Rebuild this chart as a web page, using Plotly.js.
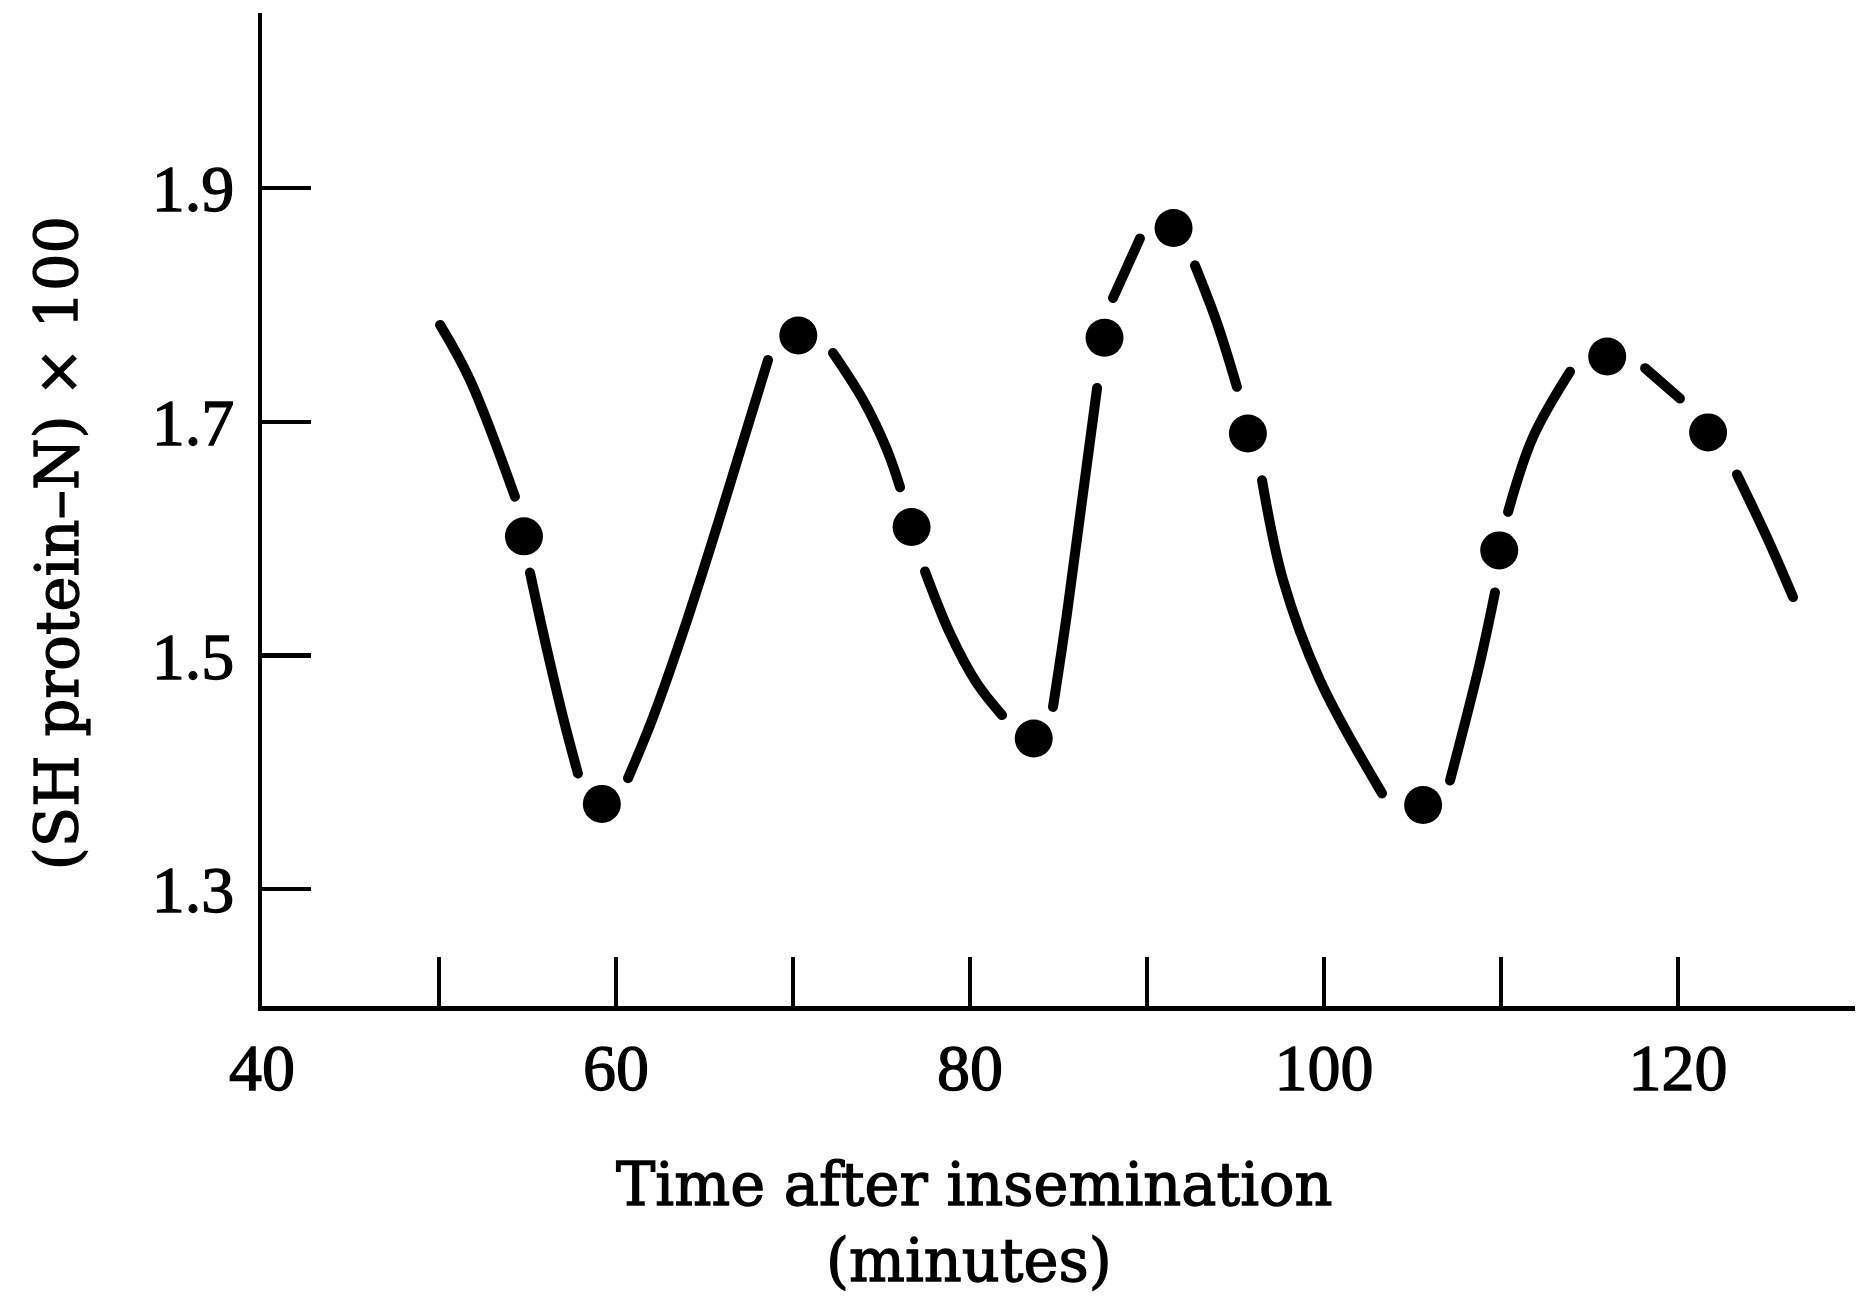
<!DOCTYPE html>
<html>
<head>
<meta charset="utf-8">
<script src="https://cdn.plot.ly/plotly-3.0.1.min.js"></script>
<style>
  html, body { margin: 0; padding: 0; background: #ffffff; }
  #chart { width: 1859px; height: 1297px; }
  /* heavier print look of the original typesetting */
  #chart svg text { stroke: #000000; stroke-width: 1.3px; }
  /* pen-drawn strokes have rounded ends */
  #chart .scatterlayer path.js-line { stroke-linecap: round; stroke-linejoin: round; }
</style>
</head>
<body>
<div id="chart"></div>
<script>
// Measured points (time after insemination, minutes)
const dotTime  = [54.8, 59.2, 70.3, 76.7, 83.6, 87.6, 91.5, 95.7, 105.6, 109.9, 116.0, 121.7];
const dotValue = [1.602, 1.373, 1.774, 1.610, 1.429, 1.772, 1.866, 1.690, 1.372, 1.590, 1.756, 1.691];

// Hand-drawn fitted curve: points read along its visible strokes.
// The drawn curve is interrupted around every data point; null marks each break.
const curveTime  = [50.06, 51.75, 54.29, null,
                    55.14, 56.10, 57.01, 57.85, null,
                    60.68, 62.09, 64.01, 65.88, 68.59, null,
                    72.26, 73.95, 75.31, 76.05, null,
                    77.46, 78.87, 80.40, 81.81, null,
                    84.69, 85.48, 87.18, null,
                    88.08, 89.60, null,
                    92.71, 93.95, 95.08, null,
                    96.50, 97.68, 99.77, 103.28, null,
                    107.12, 108.81, 109.66, null,
                    110.40, 111.81, 113.90, null,
                    118.14, 120.11, null,
                    123.33, 125.03, 126.50];
const curveValue = [1.783, 1.736, 1.636, null,
                    1.571, 1.505, 1.447, 1.399, null,
                    1.395, 1.447, 1.530, 1.619, 1.753, null,
                    1.759, 1.719, 1.676, 1.644, null,
                    1.572, 1.519, 1.476, 1.449, null,
                    1.456, 1.536, 1.729, null,
                    1.806, 1.857, null,
                    1.834, 1.785, 1.730, null,
                    1.650, 1.565, 1.479, 1.382, null,
                    1.393, 1.494, 1.554, null,
                    1.623, 1.687, 1.743, null,
                    1.746, 1.720, null,
                    1.655, 1.601, 1.550];

const xTickValues = [40, 50, 60, 70, 80, 90, 100, 110, 120, 130];
const xTickLabels = ['40', '', '60', '', '80', '', '100', '', '120', ''];
const yTickValues = [1.3, 1.5, 1.7, 1.9];
const yTickLabels = ['1.3', '1.5', '1.7', '1.9'];

const yTitle = '(SH protein\u2013N) \u00d7 100';
const xTitleLine1 = 'Time after insemination';
const xTitleLine2 = '(minutes)';

const tickFont = { family: '"Liberation Serif", "Times New Roman", serif', size: 66, color: '#000000' };
const titleFont = { family: '"DejaVu Serif", "Liberation Serif", serif', size: 59, color: '#000000' };

const traces = [
  {
    type: 'scatter', mode: 'lines', x: curveTime, y: curveValue,
    connectgaps: false,
    line: { color: '#000000', width: 10, shape: 'spline', smoothing: 1.0 },
    hoverinfo: 'skip', showlegend: false
  },
  {
    type: 'scatter', mode: 'markers', x: dotTime, y: dotValue,
    marker: { size: 38, color: '#000000', line: { width: 0 } },
    showlegend: false
  }
];

const axisCommon = {
  showgrid: false, zeroline: false,
  showline: true, linecolor: '#000000', linewidth: 4.5,
  ticks: 'inside', ticklen: 49, tickwidth: 4.5, tickcolor: '#000000',
  tickfont: tickFont, tickmode: 'array', fixedrange: true
};

const layout = {
  width: 1859, height: 1297,
  margin: { l: 262, r: 4, t: 13, b: 291, pad: 0 },
  paper_bgcolor: '#ffffff', plot_bgcolor: '#ffffff',
  showlegend: false,
  xaxis: Object.assign({}, axisCommon, {
    range: [40, 130], tickvals: xTickValues, ticktext: xTickLabels,
    ticklabelstandoff: 0
  }),
  yaxis: Object.assign({}, axisCommon, {
    range: [1.2, 2.05], tickvals: yTickValues, ticktext: yTickLabels,
    ticklabelstandoff: 10
  }),
  annotations: [
    { text: yTitle, xref: 'paper', yref: 'paper', x: -0.1287, y: 0.466,
      xanchor: 'center', yanchor: 'middle', textangle: -90, showarrow: false, font: titleFont },
    { text: xTitleLine1, xref: 'paper', yref: 'paper', x: 0.447, y: -0.180,
      xanchor: 'center', yanchor: 'middle', showarrow: false, font: titleFont },
    { text: xTitleLine2, xref: 'paper', yref: 'paper', x: 0.444, y: -0.256,
      xanchor: 'center', yanchor: 'middle', showarrow: false, font: titleFont }
  ]
};

Plotly.newPlot('chart', traces, layout, { displayModeBar: false, staticPlot: true });
</script>
</body>
</html>
